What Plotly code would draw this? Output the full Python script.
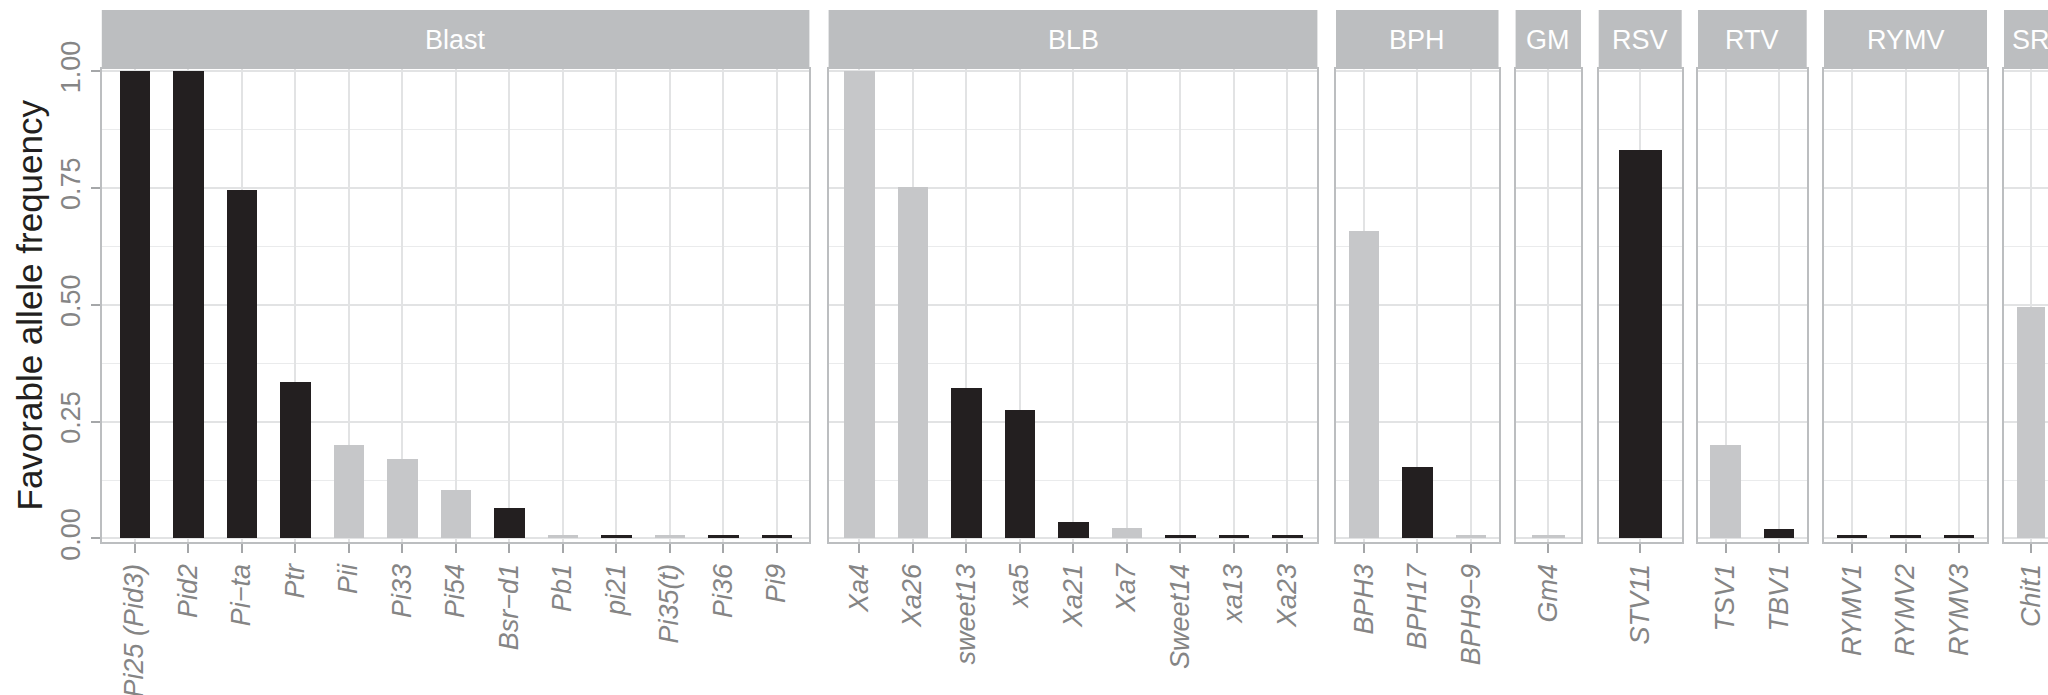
import plotly.graph_objects as go

# ---- data -----------------------------------------------------------------
groups = ["Blast", "BLB", "BPH", "GM", "RSV", "RTV", "RYMV", "SR"]

blast_genes = ["Pi25 (Pid3)", "Pid2", "Pi−ta", "Ptr", "Pii", "Pi33", "Pi54",
               "Bsr−d1", "Pb1", "pi21", "Pi35(t)", "Pi36", "Pi9"]
blast_freq = [1.0, 1.0, 0.745, 0.335, 0.200, 0.170, 0.103,
              0.065, 0.007, 0.007, 0.007, 0.007, 0.007]
blast_class = ["dark", "dark", "dark", "dark", "light", "light", "light",
               "dark", "light", "dark", "light", "dark", "dark"]

blb_genes = ["Xa4", "Xa26", "sweet13", "xa5", "Xa21", "Xa7", "Sweet14", "xa13", "Xa23"]
blb_freq = [1.0, 0.752, 0.322, 0.274, 0.036, 0.022, 0.007, 0.007, 0.007]
blb_class = ["light", "light", "dark", "dark", "dark", "light", "dark", "dark", "dark"]

bph_genes = ["BPH3", "BPH17", "BPH9−9"]
bph_freq = [0.657, 0.153, 0.007]
bph_class = ["light", "dark", "light"]

gm_genes = ["Gm4"]
gm_freq = [0.007]
gm_class = ["light"]

rsv_genes = ["STV11"]
rsv_freq = [0.830]
rsv_class = ["dark"]

rtv_genes = ["TSV1", "TBV1"]
rtv_freq = [0.200, 0.021]
rtv_class = ["light", "dark"]

rymv_genes = ["RYMV1", "RYMV2", "RYMV3"]
rymv_freq = [0.007, 0.007, 0.007]
rymv_class = ["dark", "dark", "dark"]

sr_genes = ["Chit1"]
sr_freq = [0.495]
sr_class = ["light"]

group_data = {
    "Blast": (blast_genes, blast_freq, blast_class),
    "BLB": (blb_genes, blb_freq, blb_class),
    "BPH": (bph_genes, bph_freq, bph_class),
    "GM": (gm_genes, gm_freq, gm_class),
    "RSV": (rsv_genes, rsv_freq, rsv_class),
    "RTV": (rtv_genes, rtv_freq, rtv_class),
    "RYMV": (rymv_genes, rymv_freq, rymv_class),
    "SR": (sr_genes, sr_freq, sr_class),
}

y_ticks = [0.0, 0.25, 0.5, 0.75, 1.0]

# ---- layout / style -------------------------------------------------------
W, H = 2048, 695
STRIP_TOP, PANEL_TOP, PANEL_BOTTOM = 10, 69, 542
UNIT = 53.5  # px per category in the multi-gene panels

# horizontal extent of each facet panel, in pixels
panel_px = {
    "Blast": (101.8, 809.4),
    "BLB": (828.6, 1317.4),
    "BPH": (1336.0, 1498.5),
    "GM": (1515.6, 1581.0),
    "RSV": (1598.7, 1681.7),
    "RTV": (1698.0, 1806.7),
    "RYMV": (1824.0, 1987.0),
    "SR": (2004.0, 2048.0),
}
bar_width = {"GM": 0.6, "RSV": 0.625, "SR": 0.635}

COLORS = {"dark": "#231f20", "light": "#c6c7c9"}
STRIP_BG = "#bcbec0"
BORDER = "#bcbec0"
GRID = "#e2e3e4"
MINOR_GRID = "#eaebec"
TICK_TXT = "#858585"
FONT = "Liberation Sans, Arial, Helvetica, sans-serif"

Y_RANGE = [-0.0075, 1.0043]


def px_x(v):
    return v / W


def px_y(v):
    return 1 - v / H


fig = go.Figure()
annotations = []
shapes = []

for i, g in enumerate(groups):
    genes, freq, cls = group_data[g]
    n = len(genes)
    x0, x1 = panel_px[g]
    if g == "SR":
        # single-gene panel running off the right edge of the canvas
        unit = 45.0
        rng = [-0.6, -0.6 + (x1 - x0) / unit]
        center_px = x0 + 0.6 * unit
    elif n == 1:
        rng = [-0.6, 0.6]
        center_px = (x0 + x1) / 2
    else:
        e = ((x1 - x0) / UNIT - (n - 1)) / 2
        rng = [-e, n - 1 + e]
        center_px = (x0 + x1) / 2

    sfx = "" if i == 0 else str(i + 1)
    fig.add_trace(go.Bar(
        x=genes, y=freq,
        marker=dict(color=[COLORS[c] for c in cls], line=dict(width=0)),
        width=bar_width.get(g, 0.57),
        xaxis="x" + sfx, yaxis="y" + sfx,
        showlegend=False, hoverinfo="x+y",
    ))

    fig.update_layout(**{
        "xaxis" + sfx: dict(
            type="category", categoryorder="array", categoryarray=genes,
            domain=[px_x(x0), px_x(x1)], range=rng, anchor="y" + sfx,
            showgrid=True, gridcolor=GRID, gridwidth=1.6,
            showline=True, linecolor=BORDER, linewidth=2.3, mirror=True,
            ticks="outside", ticklen=9, tickwidth=2, tickcolor="#a5a7a9",
            tickangle=-90, automargin=False, zeroline=False,
            tickfont=dict(family=FONT, size=27, color=TICK_TXT, style="italic"),
            fixedrange=True,
        ),
        "yaxis" + sfx: dict(
            domain=[px_y(PANEL_BOTTOM), px_y(PANEL_TOP)], range=Y_RANGE,
            anchor="x" + sfx, tickvals=y_ticks, tickformat=".2f",
            showgrid=True, gridcolor=GRID, gridwidth=2,
            minor=dict(showgrid=True, dtick=0.125, tick0=0, gridcolor=MINOR_GRID, gridwidth=1.3),
            showline=True, linecolor=BORDER, linewidth=2.3, mirror=(g != "SR"),
            zeroline=False, automargin=False, fixedrange=True,
            showticklabels=(i == 0), ticks="outside" if i == 0 else "",
            ticklen=9, tickwidth=2, tickcolor="#a5a7a9", tickangle=-90,
            tickfont=dict(family=FONT, size=27, color=TICK_TXT),
            **({} if i == 0 else {"matches": "y"}),
        ),
    })

    # facet strip
    shapes.append(dict(
        type="rect", xref="paper", yref="paper",
        x0=px_x(x0), x1=px_x(x1), y0=px_y(PANEL_TOP), y1=px_y(STRIP_TOP),
        fillcolor=STRIP_BG, line=dict(width=0), layer="below",
    ))
    annotations.append(dict(
        text=g, xref="paper", yref="paper", showarrow=False,
        x=px_x(center_px), y=px_y((STRIP_TOP + PANEL_TOP) / 2),
        xanchor="center", yanchor="middle",
        font=dict(family=FONT, size=27, color="white"),
    ))

annotations.append(dict(
    text="Favorable allele frequency", xref="paper", yref="paper",
    x=px_x(29), y=px_y((PANEL_TOP + PANEL_BOTTOM) / 2), textangle=-90,
    showarrow=False, xanchor="center", yanchor="middle",
    font=dict(family=FONT, size=35, color="#231f20"),
))

fig.update_layout(
    width=W, height=H, autosize=False,
    margin=dict(l=0, r=0, t=0, b=0, pad=0),
    paper_bgcolor="white", plot_bgcolor="white",
    template="none", bargap=0,
    shapes=shapes, annotations=annotations,
    font=dict(family=FONT),
)

fig.write_html("out.html")
